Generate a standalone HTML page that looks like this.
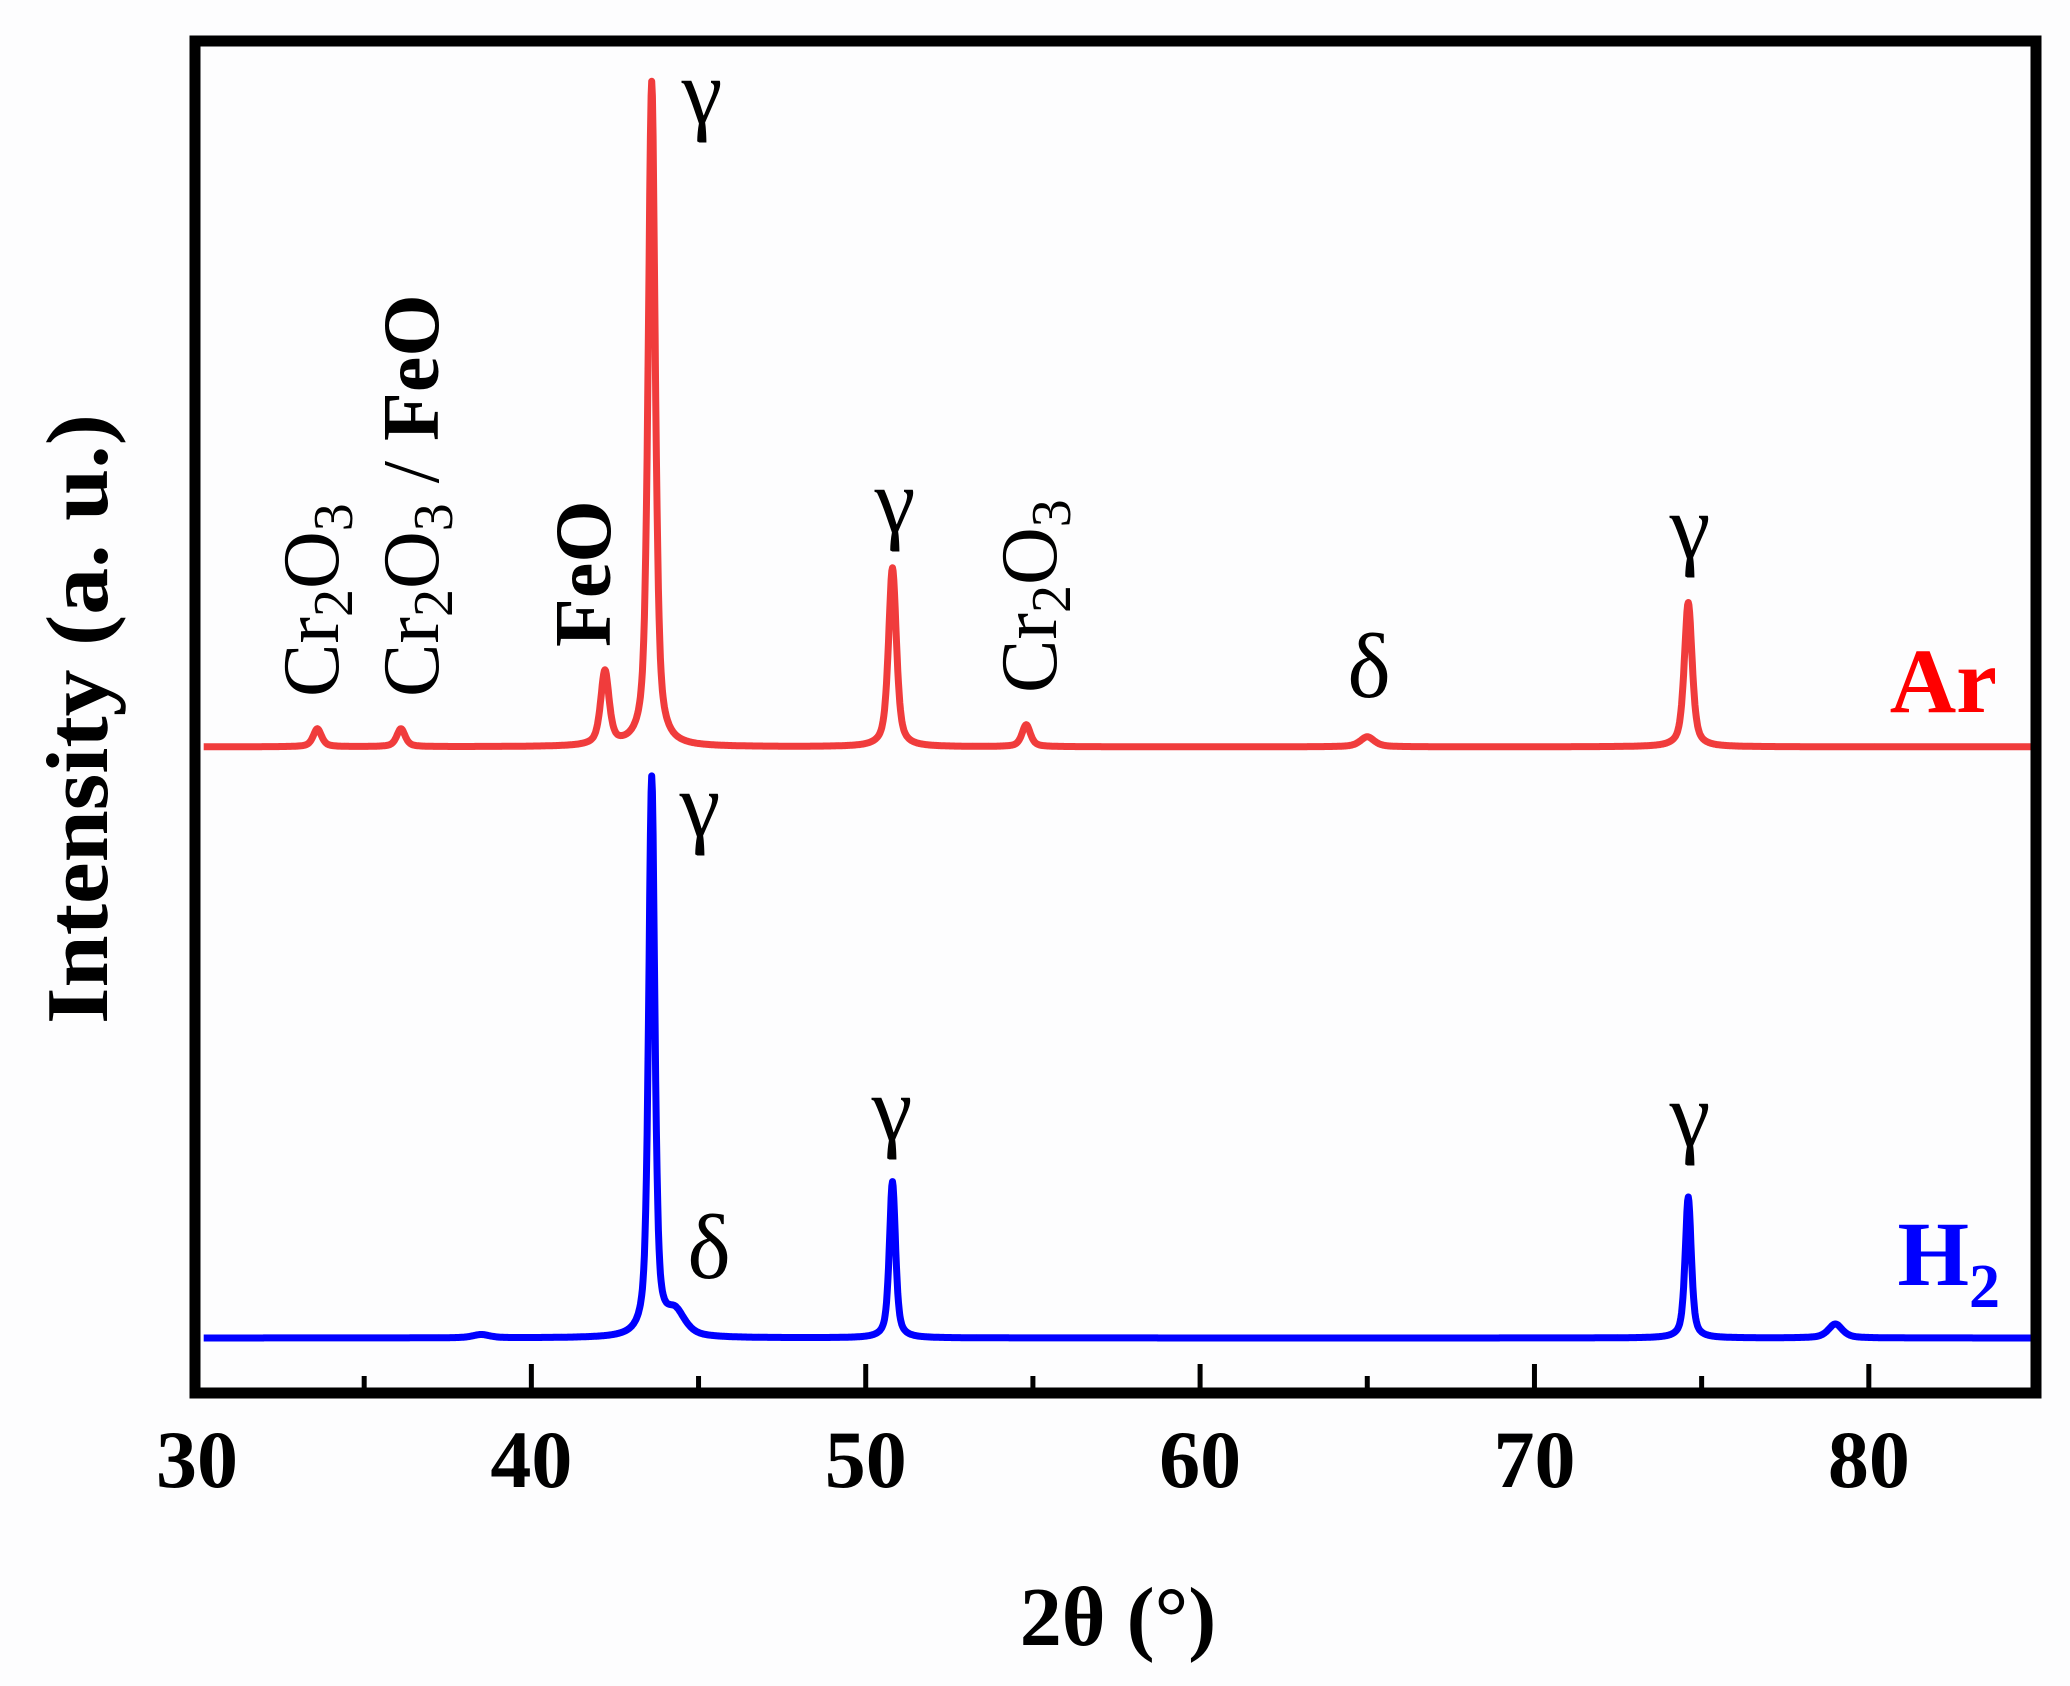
<!DOCTYPE html>
<html><head><meta charset="utf-8"><style>
html,body{margin:0;padding:0;background:#fff;}
svg{display:block;font-family:"Liberation Serif",serif;}
</style></head><body>
<svg id="chart" width="2070" height="1686" viewBox="0 0 2070 1686">
<rect x="0" y="0" width="2070" height="1686" fill="#fdfdfe"/>
<g id="series"></g>
<rect x="195" y="41" width="1841" height="1352" fill="none" stroke="#000" stroke-width="11"/>
<g id="ticks"></g>
<text x="1118" y="1645" font-size="84" font-weight="bold" text-anchor="middle">2θ (°)</text>
<text transform="translate(107,719) rotate(-90)" font-size="88" font-weight="bold" text-anchor="middle" textLength="610" lengthAdjust="spacingAndGlyphs">Intensity (a. u.)</text>
<text x="1997" y="712" font-size="92" font-weight="bold" fill="#f00" text-anchor="end">Ar</text>
<text x="2000" y="1285" font-size="92" font-weight="bold" fill="#00f" text-anchor="end">H<tspan font-size="62" dy="22">2</tspan></text>
<g font-size="80" fill="#000">
<text transform="translate(338,697) rotate(-90)">Cr<tspan font-size="56" dy="14">2</tspan><tspan dy="-14">O</tspan><tspan font-size="56" dy="14">3</tspan></text>
<text transform="translate(438,697) rotate(-90)">Cr<tspan font-size="56" dy="14">2</tspan><tspan dy="-14">O</tspan><tspan font-size="56" dy="14">3</tspan><tspan dy="-14"> / </tspan><tspan font-weight="bold">FeO</tspan></text>
<text transform="translate(610,647) rotate(-90)" font-weight="bold">FeO</text>
<text transform="translate(1056,693) rotate(-90)">Cr<tspan font-size="56" dy="14">2</tspan><tspan dy="-14">O</tspan><tspan font-size="56" dy="14">3</tspan></text>
<g font-size="92" text-anchor="middle">
<text x="702" y="123">γ</text>
<text x="895" y="532">γ</text>
<text x="1690" y="558">γ</text>
<text x="1369" y="697">δ</text>
<text x="700" y="836">γ</text>
<text x="709" y="1278">δ</text>
<text x="892" y="1140">γ</text>
<text x="1690" y="1146">γ</text>
</g></g>
</svg>
<script>
const xTicks = [30, 40, 50, 60, 70, 80];
const xTickLabels = ["30", "40", "50", "60", "70", "80"];
const xMinorTicks = [35, 45, 55, 65, 75];
const arPeakPos = [33.6, 36.1, 42.2, 43.6, 50.8, 54.8, 65.0, 74.6];
const arPeakHeight = [2.7, 2.7, 11.1, 100, 26.9, 3.3, 1.5, 21.7];
const arPeakWidth = [0.3, 0.3, 0.3, 0.25, 0.28, 0.3, 0.5, 0.28];
const h2PeakPos = [38.5, 43.6, 44.3, 50.8, 74.6, 79.0];
const h2PeakHeight = [0.5, 84, 3.6, 23.5, 21.2, 2.1];
const h2PeakWidth = [0.6, 0.22, 0.7, 0.22, 0.22, 0.5];
const arOffset = 88.9;
const h2Offset = 0;

const NS = "http://www.w3.org/2000/svg";
function xScale(v){ return 197 + (v - 30) * (2036 - 197) / 55; }
function yScale(v){ return 1338 - v * 6.65; }
function profile(t, pos, h, w){
  let s = 0;
  for (let i = 0; i < pos.length; i++){
    const d = (t - pos[i]) / (w[i] / 2);
    s += h[i] * (0.6 / (1 + d * d) + 0.4 * Math.exp(-0.693 * d * d));
  }
  return s;
}
function drawSeries(pos, h, w, off, color, name){
  let d = "";
  for (let t = 30.2; t <= 85.0001; t += 0.02){
    const v = off + profile(t, pos, h, w);
    d += (d ? "L" : "M") + xScale(t).toFixed(1) + "," + yScale(v).toFixed(1);
  }
  const p = document.createElementNS(NS, "path");
  p.setAttribute("d", d);
  p.setAttribute("fill", "none");
  p.setAttribute("stroke", color);
  p.setAttribute("stroke-width", "7");
  p.setAttribute("stroke-linejoin", "round");
  
  
  document.getElementById("series").appendChild(p);
}
drawSeries(arPeakPos, arPeakHeight, arPeakWidth, arOffset, "#f03c3c", "ar-pattern-line");
drawSeries(h2PeakPos, h2PeakHeight, h2PeakWidth, h2Offset, "#0000ff", "h2-pattern-line");

const tg = document.getElementById("ticks");
xTicks.forEach((v, i) => {
  const l = document.createElementNS(NS, "line");
  l.setAttribute("x1", xScale(v)); l.setAttribute("x2", xScale(v));
  l.setAttribute("y1", 1388); l.setAttribute("y2", 1364);
  l.setAttribute("stroke", "#000"); l.setAttribute("stroke-width", "5");
  
  
  tg.appendChild(l);
  const t = document.createElementNS(NS, "text");
  t.setAttribute("x", xScale(v)); t.setAttribute("y", 1487);
  t.setAttribute("font-size", "82"); t.setAttribute("font-weight", "bold");
  t.setAttribute("text-anchor", "middle");
  t.textContent = xTickLabels[i];
  
  
  tg.appendChild(t);
});
xMinorTicks.forEach(v => {
  const l = document.createElementNS(NS, "line");
  l.setAttribute("x1", xScale(v)); l.setAttribute("x2", xScale(v));
  l.setAttribute("y1", 1388); l.setAttribute("y2", 1376);
  l.setAttribute("stroke", "#000"); l.setAttribute("stroke-width", "5");
  
  
  tg.appendChild(l);
});
</script>
</body></html>
